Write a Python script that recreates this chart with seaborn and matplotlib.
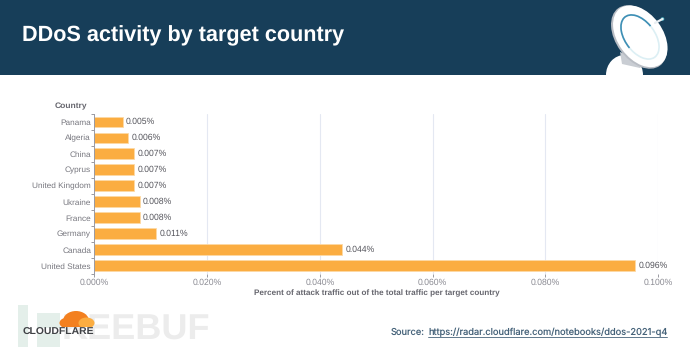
import numpy as np
import pandas as pd
import matplotlib
matplotlib.use("Agg")
import matplotlib.pyplot as plt
from matplotlib.patches import Ellipse, Rectangle, Circle, Arc, Polygon
from matplotlib.ticker import FixedLocator
import seaborn as sns

countries = ["Panama", "Algeria", "China", "Cyprus", "United Kingdom",
             "Ukraine", "France", "Germany", "Canada", "United States"]
values = [0.005, 0.006, 0.007, 0.007, 0.007, 0.008, 0.008, 0.011, 0.044, 0.096]
x_ticks = [0.0, 0.02, 0.04, 0.06, 0.08, 0.10]
x_tick_labels = ["0.000%", "0.020%", "0.040%", "0.060%", "0.080%", "0.100%"]
title = "DDoS activity by target country"
x_label = "Percent of attack traffic out of the total traffic per target country"
y_label = "Country"

W, H = 690, 354
sns.set_theme(style="white")
plt.rcParams["font.family"] = ["Liberation Sans", "DejaVu Sans"]
plt.rcParams["text.hinting"] = "no_hinting"
fig = plt.figure(figsize=(W / 100, H / 100), dpi=100, facecolor="white")

# chart
ax = fig.add_axes([94.5 / W, 1 - 273.5 / H, (658 - 94.5) / W, (273.5 - 114) / H])
df = pd.DataFrame({"Country": countries, "Value": values})
sns.barplot(data=df, x="Value", y="Country", order=countries, color="#FBAD41",
            saturation=1, width=0.68, edgecolor="#FDD9A5", linewidth=0.6, ax=ax)
ax.set_xlim(0, 0.10)
ax.set_ylim(len(countries) - 0.5, -0.5)
ax.set_xticks(x_ticks)
ax.set_xticklabels(x_tick_labels)
ax.yaxis.set_minor_locator(FixedLocator(np.arange(-0.5, len(countries), 1)))
ax.grid(axis="x", color="#E4E8F2", linewidth=0.8)
ax.grid(axis="y", visible=False)
ax.set_axisbelow(True)
for s in ["top", "right", "bottom"]:
    ax.spines[s].set_visible(False)
ax.spines["left"].set_color("#9A9AA2")
ax.spines["left"].set_linewidth(0.7)
ax.tick_params(axis="y", which="major", length=0, pad=2.5, labelsize=5.95, labelcolor="#77777F")
ax.tick_params(axis="y", which="minor", left=True, length=2.2, width=0.7, color="#9A9AA2")
ax.tick_params(axis="x", length=2.2, width=0.7, color="#9A9AA2", pad=1.0, labelsize=6.2,
               labelcolor="#8A8A92", bottom=True)
ax.set_xlabel("")
ax.set_ylabel("")
for container in ax.containers:
    ax.bar_label(container, labels=[f"{v:.3f}%" for v in values], padding=2.5,
                 fontsize=6.2, color="#55555C")

# overlay in pixel coordinates for the slide furniture
ov = fig.add_axes([0, 0, 1, 1], zorder=5)
ov.set_xlim(0, W)
ov.set_ylim(H, 0)
ov.axis("off")
ov.patch.set_alpha(0)

ov.add_patch(Rectangle((0, 0), W, 75, color="#173E59", lw=0))
ov.text(22, 35.5, title, color="white", fontsize=15.55, fontweight="bold", va="center", ha="left")

# satellite dish icon
ov.add_patch(Ellipse((624.5, 75), 37, 40, color="white", lw=0))
ov.add_patch(Polygon([(620, 52), (646, 62), (640, 68), (622, 64)], color="#C9CDD3", lw=0))
ov.plot([655, 662.5], [23, 19], color="#E8EEF2", lw=1.6, solid_capstyle="round")
ov.add_patch(Circle((662.5, 19), 1.8, color="#4FB3C4", lw=0))
ov.add_patch(Ellipse((639, 37), 46, 71, angle=-36, color="#B9BDC4", lw=0))
ov.add_patch(Ellipse((640.3, 36.3), 45, 69, angle=-36, color="white", lw=0))
ov.add_patch(Arc((640, 37), 30, 50, angle=-36, theta1=0, theta2=360, color="#DCEFF4", lw=1.2))
ov.add_patch(Arc((640, 37), 30, 50, angle=-36, theta1=170, theta2=350, color="#3E8FB5", lw=1.2))

# watermark
ov.add_patch(Rectangle((18, 305), 10, 42, color="#E4EFEA", lw=0))
ov.add_patch(Rectangle((37, 313), 23, 15, color="#E4EFEA", lw=0))
ov.add_patch(Rectangle((37, 333), 23, 14, color="#E4EFEA", lw=0))
ov.text(62, 330, "KEEBUF", color="#ECECEC", fontsize=26, fontweight="bold", va="center", ha="left",
        zorder=2)

# Cloudflare logo
clip = Rectangle((55, 305), 45, 21.5, transform=ov.transData)
for xy, w, h, col in [((76, 321), 26, 20, "#F38020"), ((66, 323), 13, 10, "#F38020"),
                      ((86.5, 323), 16, 11, "#FBAD41")]:
    p = Ellipse(xy, w, h, color=col, lw=0, zorder=4)
    ov.add_patch(p)
    p.set_clip_path(clip)
ov.text(22.5, 332.5, "CLOUDFLARE", color="#404246", fontsize=7.5, fontweight="bold", va="center",
        ha="left", zorder=5)

# axis titles
fig.text(55 / W, 1 - 106.5 / H, y_label, fontsize=6.1, fontweight="bold", color="#66666E",
         ha="left", va="center", zorder=6)
fig.text(376.5 / W, 1 - 293 / H, x_label, fontsize=5.9, fontweight="bold", color="#66666E",
         ha="center", va="center", zorder=6)

# source
ov.text(391, 332, "Source:", fontsize=6.7, color="#46637A", va="center", ha="left", family="Inter")
ov.text(428, 332, "https://radar.cloudflare.com/notebooks/ddos-2021-q4", fontsize=6.7,
        color="#46637A", va="center", ha="left", family="Inter")
ov.plot([428, 667], [337, 337], color="#46637A", lw=0.6)

fig.savefig("out.png", dpi=100)
